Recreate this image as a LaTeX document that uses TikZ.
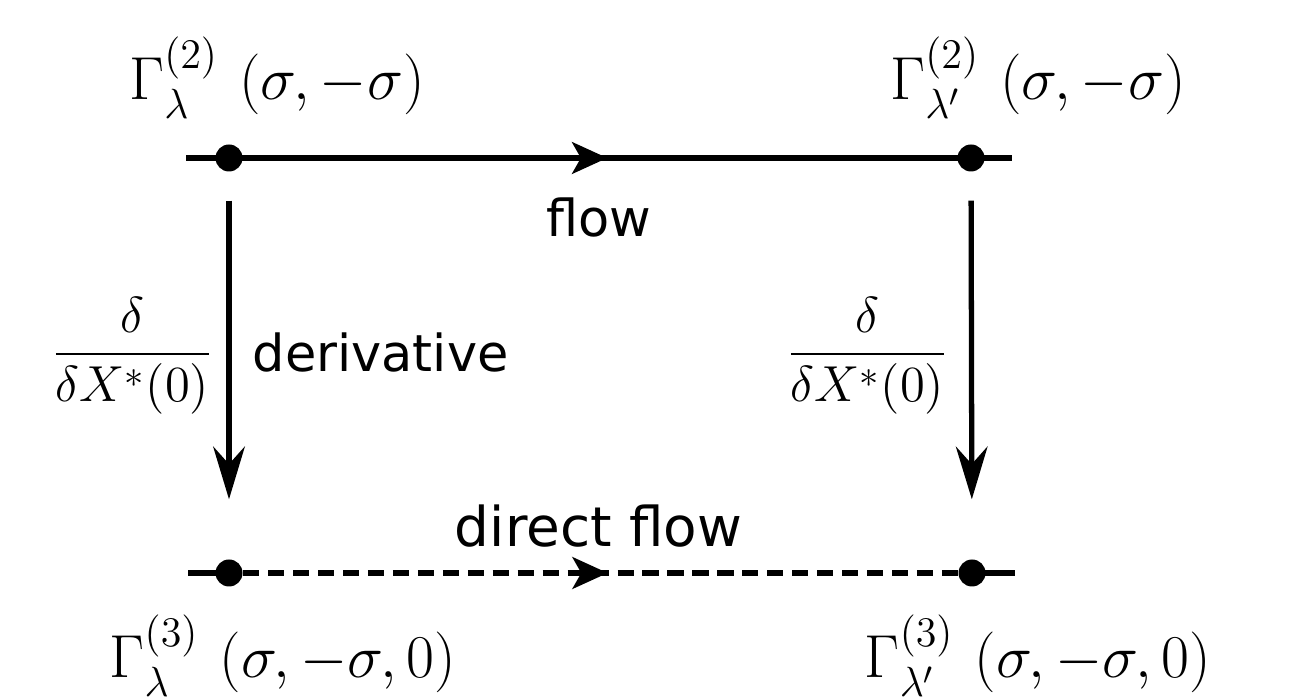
\documentclass[tikz,border=0pt]{standalone}
\usepackage{amsmath}
\usepackage{fontspec}
\setsansfont{DejaVu Sans}
\usetikzlibrary{arrows.meta,decorations.markings,positioning,backgrounds}

\begin{document}
\begin{tikzpicture}[
    dot/.style={circle, fill, inner sep=0pt, minimum size=0.27cm},
    gamma/.style={anchor=base, inner sep=0pt, font=\fontsize{18.6}{22}\selectfont},
    word/.style={inner sep=0pt, font=\sffamily\fontsize{14.5}{17}\selectfont},
    deriv/.style={inner sep=0pt, font=\fontsize{15.3}{18}\selectfont},
    flowline/.style={line width=1.6pt, postaction={decorate},
      decoration={markings, mark=at position 0.51 with {\arrow[solid]{Stealth[length=10pt,width=9pt,inset=2.5pt]}}}},
    downarrow/.style={line width=1.5pt, -{Stealth[length=15pt,width=9pt,inset=5pt]},
      shorten <=0.285cm, shorten >=0.595cm}
  ]
  \useasboundingbox (0,0) rectangle (12.94,6.99);

  \coordinate (tw) at (1.86,5.41);
  \coordinate (te) at (10.12,5.41);
  \coordinate (bw) at (1.88,1.26);
  \coordinate (be) at (10.15,1.26);

  \node[dot] (tl) at (2.29,5.41) {};
  \node[dot] (tr) at (9.71,5.41) {};
  \node[dot] (bl) at (2.29,1.26) {};
  \node[dot] (br) at (9.72,1.26) {};

  % flow lines
  \begin{scope}[on background layer]
    \draw[flowline] (tw) -- (te);
    \draw[line width=1.6pt] (bw) -- (bl.center) (br.center) -- (be);
    \draw[flowline, dash pattern=on 4.6pt off 2.5pt] (bl) -- (br);
  \end{scope}

  % derivatives
  \draw[downarrow] (tl) -- (bl);
  \draw[downarrow] (tr) -- (br);

  \node[gamma] (gtl) at (2.77,5.99) {$\Gamma^{(2)}_{\lambda}\,\left(\sigma,-\sigma\right)$};
  \node[gamma] (gtr) at (10.38,5.99) {$\Gamma^{(2)}_{\lambda'}\,\left(\sigma,-\sigma\right)$};
  \node[gamma] (gbl) at (2.83,0.21) {$\Gamma^{(3)}_{\lambda}\,\left(\sigma,-\sigma,0\right)$};
  \node[gamma] (gbr) at (10.38,0.21) {$\Gamma^{(3)}_{\lambda'}\,\left(\sigma,-\sigma,0\right)$};

  \node[word, anchor=base] (flow) at (5.99,4.62) {flow};
  \node[word, anchor=base west] (der) at (2.52,3.27) {derivative};
  \node[word, anchor=base, font=\sffamily\fontsize{15.6}{18}\selectfont] (dflow) at (5.985,1.52) {direct flow};

  \node[deriv] (fl) at (1.325,3.43) {$\dfrac{\delta}{\delta X^{*}(0)}$};
  \node[deriv] (fr) at (8.675,3.43) {$\dfrac{\delta}{\delta X^{*}(0)}$};
\end{tikzpicture}
\end{document}
